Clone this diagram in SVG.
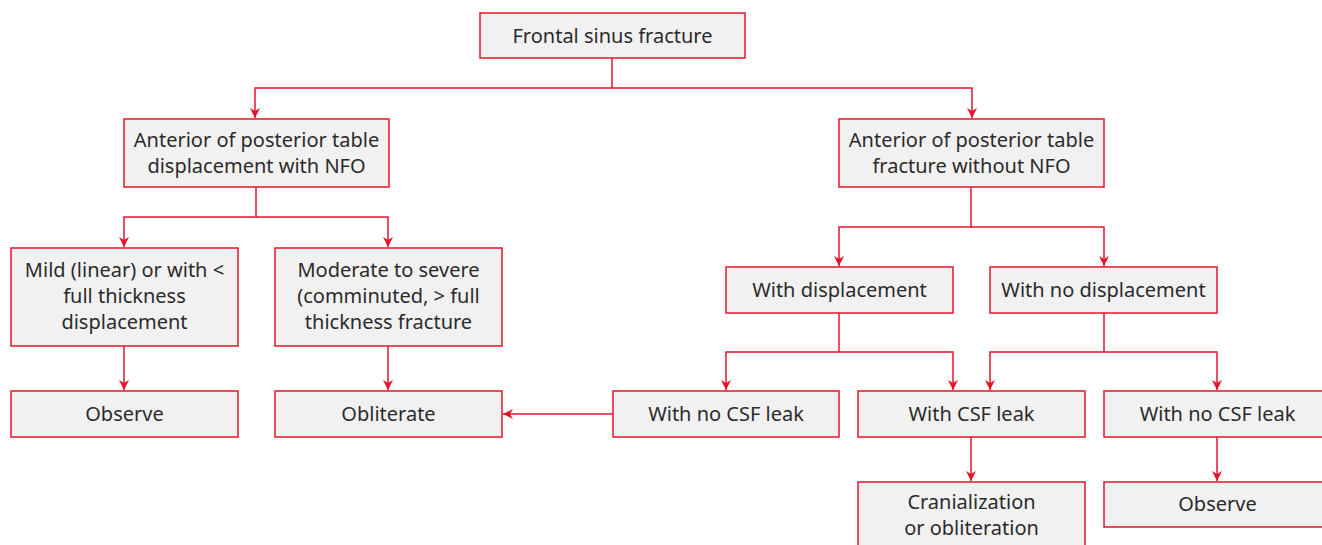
<svg xmlns="http://www.w3.org/2000/svg" width="1322" height="545" viewBox="0 0 1322 545">
<defs>
<marker id="arr" markerUnits="userSpaceOnUse" markerWidth="10" markerHeight="12" refX="10" refY="5" orient="auto">
<path d="M0,0 L10,5 L0,10 L3,5 Z" fill="#e5142a"/>
</marker>
<style>
.box{fill:#f1f1f1;stroke:#e5142a;stroke-width:1.5}
.t{font-family:"Noto Sans","Liberation Sans",sans-serif;font-size:20px;fill:#2b2b2b;text-anchor:middle}
.c{fill:none;stroke:#e5142a;stroke-width:1.5}
</style>
</defs>
<rect width="1322" height="545" fill="#ffffff"/>
<g id="connectors">
<path class="c" d="M612,58 V88 H255 V118" marker-end="url(#arr)"/>
<path class="c" d="M612,88 H972 V118" marker-end="url(#arr)"/>
<path class="c" d="M256,187 V217 H124 V247" marker-end="url(#arr)"/>
<path class="c" d="M256,217 H388 V247" marker-end="url(#arr)"/>
<path class="c" d="M124,346 V390" marker-end="url(#arr)"/>
<path class="c" d="M388,346 V390" marker-end="url(#arr)"/>
<path class="c" d="M971,187 V227 H839 V266" marker-end="url(#arr)"/>
<path class="c" d="M971,227 H1104 V266" marker-end="url(#arr)"/>
<path class="c" d="M839,313 V352 H726 V390" marker-end="url(#arr)"/>
<path class="c" d="M839,352 H953 V390" marker-end="url(#arr)"/>
<path class="c" d="M1104,313 V352 H990 V390" marker-end="url(#arr)"/>
<path class="c" d="M1104,352 H1217 V390" marker-end="url(#arr)"/>
<path class="c" d="M613,414 H503" marker-end="url(#arr)"/>
<path class="c" d="M971,437 V481" marker-end="url(#arr)"/>
<path class="c" d="M1217,437 V481" marker-end="url(#arr)"/>
</g>
<g id="n-frontal"><rect class="box" x="480" y="13" width="265" height="45"/><text class="t" x="612.5" y="43">Frontal sinus fracture</text></g>
<g id="n-with-nfo"><rect class="box" x="124" y="119" width="265" height="68"/><text class="t" x="256.5" y="147">Anterior of posterior table</text><text class="t" x="256.5" y="173">displacement with NFO</text></g>
<g id="n-without-nfo"><rect class="box" x="839" y="119" width="265" height="68"/><text class="t" x="971.5" y="147">Anterior of posterior table</text><text class="t" x="971.5" y="173">fracture without NFO</text></g>
<g id="n-mild"><rect class="box" x="11" y="248" width="227" height="98"/><text class="t" x="124.5" y="277">Mild (linear) or with &lt;</text><text class="t" x="124.5" y="303">full thickness</text><text class="t" x="124.5" y="329">displacement</text></g>
<g id="n-moderate"><rect class="box" x="275" y="248" width="227" height="98"/><text class="t" x="388.5" y="277">Moderate to severe</text><text class="t" x="388.5" y="303">(comminuted, &gt; full</text><text class="t" x="388.5" y="329">thickness fracture</text></g>
<g id="n-observe-left"><rect class="box" x="11" y="391" width="227" height="46"/><text class="t" x="124.5" y="421">Observe</text></g>
<g id="n-obliterate"><rect class="box" x="275" y="391" width="227" height="46"/><text class="t" x="388.5" y="421">Obliterate</text></g>
<g id="n-with-disp"><rect class="box" x="726" y="267" width="227" height="46"/><text class="t" x="839.5" y="297">With displacement</text></g>
<g id="n-no-disp"><rect class="box" x="990" y="267" width="227" height="46"/><text class="t" x="1103.5" y="297">With no displacement</text></g>
<g id="n-no-csf-left"><rect class="box" x="613" y="391" width="226" height="46"/><text class="t" x="726" y="421">With no CSF leak</text></g>
<g id="n-csf"><rect class="box" x="858" y="391" width="227" height="46"/><text class="t" x="971.5" y="421">With CSF leak</text></g>
<g id="n-no-csf-right"><rect class="box" x="1104" y="391" width="227" height="46"/><text class="t" x="1217.5" y="421">With no CSF leak</text></g>
<g id="n-cranialization"><rect class="box" x="858" y="482" width="227" height="75"/><text class="t" x="971.5" y="509">Cranialization</text><text class="t" x="971.5" y="535">or obliteration</text></g>
<g id="n-observe-right"><rect class="box" x="1104" y="482" width="227" height="45"/><text class="t" x="1217.5" y="511">Observe</text></g>
</svg>
